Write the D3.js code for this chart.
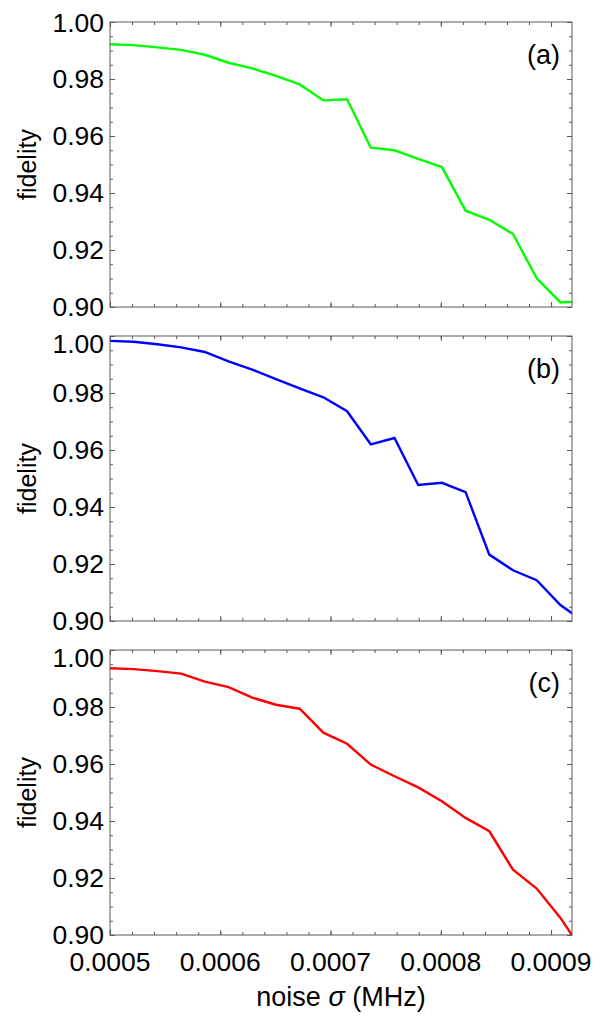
<!DOCTYPE html>
<html>
<head>
<meta charset="utf-8">
<script src="https://cdn.jsdelivr.net/npm/d3@7"></script>
<style>
  body { margin: 0; background: #fff; }
  text { font-family: "Liberation Sans", Arial, sans-serif; }
</style>
</head>
<body>
<div id="chart"></div>
<script>
(function(d3) {
    'use strict';

    // noise sigma (MHz), sample points
    var sigma = [0.0005, 0.0005215, 0.000543, 0.0005645, 0.000586, 0.0006075, 0.000629,
                 0.0006505, 0.000672, 0.0006935, 0.000715, 0.0007365, 0.000758, 0.0007795,
                 0.000801, 0.0008225, 0.000844, 0.0008655, 0.000887, 0.0009085, 0.00093];

    var fidelityA = [0.9922, 0.9919, 0.9911, 0.9902, 0.9885, 0.9857, 0.9837, 0.9811, 0.9781,
                     0.9725, 0.9729, 0.9559, 0.9550, 0.9520, 0.9491, 0.9338, 0.9306, 0.9256,
                     0.9101, 0.9016, 0.9020];

    var fidelityB = [0.9983, 0.9980, 0.9971, 0.9960, 0.9944, 0.9911, 0.9882, 0.9849, 0.9816,
                     0.9785, 0.9736, 0.9620, 0.9642, 0.9477, 0.9485, 0.9452, 0.9233, 0.9178,
                     0.9143, 0.9056, 0.8997];

    var fidelityC = [0.9936, 0.9933, 0.9926, 0.9917, 0.9889, 0.9870, 0.9833, 0.9808, 0.9794,
                     0.9710, 0.9671, 0.9598, 0.9557, 0.9518, 0.9469, 0.9411, 0.9364, 0.9229,
                     0.9163, 0.9060, 0.8936];

    var panelLabels = ['(a)', '(b)', '(c)'];
    var lineColors = ['#00ff00', '#0000ff', '#ff0000'];
    var xTickValues = [0.0005, 0.0006, 0.0007, 0.0008, 0.0009];
    var yTickValues = [0.90, 0.92, 0.94, 0.96, 0.98, 1.00];

    var width = 606,
        height = 1017,
        left = 110,
        right = 572,
        panelHeight = 285,
        panelTops = [22, 336, 650];

    var frameColor = '#5a5a5a';
    var fontSize = 26.5;

    var svg = d3.select('#chart').append('svg')
        .attr('width', width)
        .attr('height', height);

    var x = d3.scaleLinear()
        .domain([0.0005, 0.000919])
        .range([left, right]);

    var series = [fidelityA, fidelityB, fidelityC];

    svg.append('defs').append('clipPath')
        .attr('id', 'clip')
        .append('rect')
        .attr('x', left)
        .attr('y', 0)
        .attr('width', right - left)
        .attr('height', panelHeight);

    series.forEach(function(values, i) {
        var top = panelTops[i];
        var y = d3.scaleLinear()
            .domain([0.90, 1.00])
            .range([panelHeight, 0]);

        var g = svg.append('g')
            .attr('transform', 'translate(0,' + top + ')');

        // minor + major ticks on all four sides
        function ticks(axis, transform) {
            var t = g.append('g')
                .attr('transform', transform)
                .call(axis);
            t.select('.domain').remove();
            t.selectAll('line').attr('stroke', frameColor).attr('stroke-width', 1);
            t.selectAll('text').remove();
        }

        var xMinor = x.ticks(20), yMinor = y.ticks(20);

        ticks(d3.axisBottom(x).tickValues(xMinor).tickSize(-3), 'translate(0,' + panelHeight + ')');
        ticks(d3.axisBottom(x).tickValues(xTickValues).tickSize(-5), 'translate(0,' + panelHeight + ')');
        ticks(d3.axisTop(x).tickValues(xMinor).tickSize(-3), 'translate(0,0)');
        ticks(d3.axisTop(x).tickValues(xTickValues).tickSize(-5), 'translate(0,0)');
        ticks(d3.axisLeft(y).tickValues(yMinor).tickSize(-3), 'translate(' + left + ',0)');
        ticks(d3.axisLeft(y).tickValues(yTickValues).tickSize(-5), 'translate(' + left + ',0)');
        ticks(d3.axisRight(y).tickValues(yMinor).tickSize(-3), 'translate(' + right + ',0)');
        ticks(d3.axisRight(y).tickValues(yTickValues).tickSize(-5), 'translate(' + right + ',0)');

        // y tick labels
        g.selectAll('.ylab')
            .data(yTickValues)
            .enter()
            .append('text')
            .attr('class', 'ylab')
            .attr('x', left - 6)
            .attr('y', function(d) {
                var shift = (i > 0 && d === 1.00) ? 7 : 0;
                return y(d) + 0.358 * fontSize + shift;
            })
            .attr('text-anchor', 'end')
            .attr('font-size', fontSize)
            .attr('fill', '#000')
            .text(function(d) { return d3.format('.2f')(d); });

        // data line
        var line = d3.line()
            .x(function(d, k) { return x(sigma[k]); })
            .y(function(d) { return y(d); });

        g.append('path')
            .datum(values)
            .attr('clip-path', 'url(#clip)')
            .attr('d', line)
            .attr('fill', 'none')
            .attr('stroke', lineColors[i])
            .attr('stroke-width', 2.4)
            .attr('stroke-linejoin', 'miter');

        // frame
        g.append('rect')
            .attr('x', left)
            .attr('y', 0)
            .attr('width', right - left)
            .attr('height', panelHeight)
            .attr('fill', 'none')
            .attr('stroke', frameColor)
            .attr('stroke-width', 1);

        g.append('text')
            .attr('x', 560)
            .attr('y', 42)
            .attr('text-anchor', 'end')
            .attr('font-size', 27)
            .text(panelLabels[i]);

        g.append('text')
            .attr('transform', 'translate(36,' + (panelHeight / 2) + ') rotate(-90)')
            .attr('text-anchor', 'middle')
            .attr('font-size', 25)
            .text('fidelity');
    });

    // bottom x tick labels
    svg.selectAll('.xlab')
        .data(xTickValues)
        .enter()
        .append('text')
        .attr('class', 'xlab')
        .attr('x', function(d) { return x(d); })
        .attr('y', 971)
        .attr('text-anchor', 'middle')
        .attr('font-size', fontSize)
        .text(function(d) { return d3.format('.4f')(d); });

    var xt = svg.append('text')
        .attr('x', (left + right) / 2)
        .attr('y', 1006)
        .attr('text-anchor', 'middle')
        .attr('font-size', 27);
    xt.append('tspan').text('noise ');
    xt.append('tspan').attr('font-style', 'italic').text('σ');
    xt.append('tspan').text(' (MHz)');

})(window.d3);
</script>
</body>
</html>
